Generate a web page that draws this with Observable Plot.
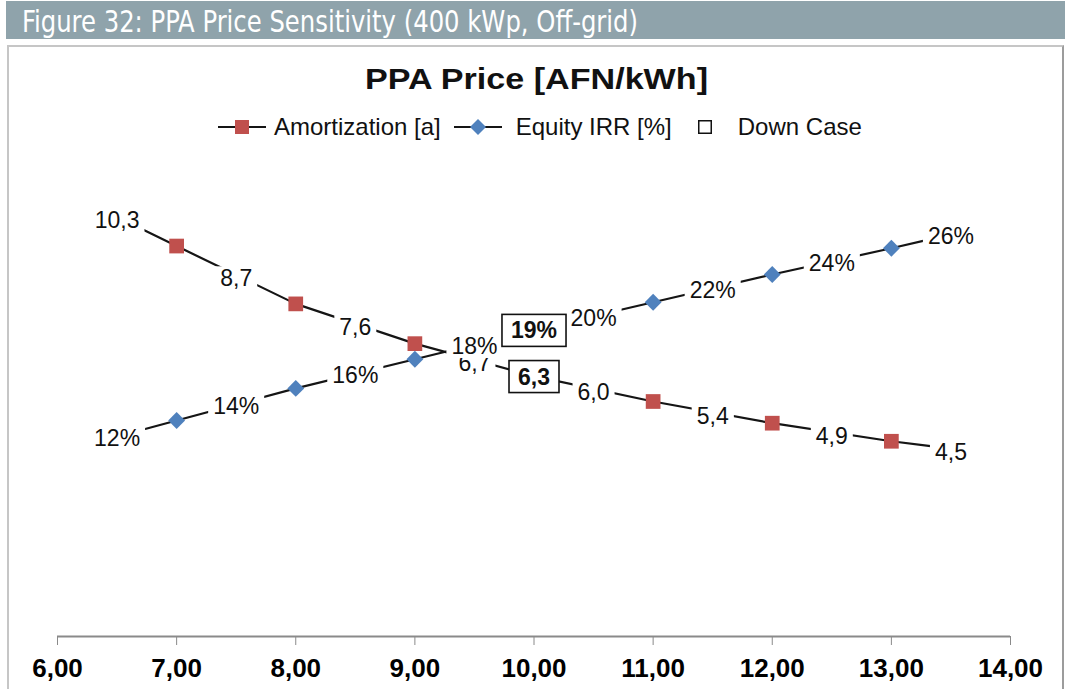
<!DOCTYPE html>
<html>
<head>
<meta charset="utf-8">
<script src="https://cdn.jsdelivr.net/npm/d3@7"></script>
<script src="https://cdn.jsdelivr.net/npm/@observablehq/plot@0.6"></script>
<style>
  body { margin:0; background:#fff; width:1065px; height:689px; overflow:hidden; position:relative;
         font-family:"Liberation Sans", Arial, sans-serif; }
  #hdr { position:absolute; left:6px; top:1px; width:1059px; height:38px; background:#8fa3ab; }
  #hdrText { position:absolute; left:16px; top:6px; color:#fff; font-family:"DejaVu Sans Condensed","DejaVu Sans",sans-serif;
             font-stretch:condensed; font-size:30px; line-height:1; white-space:nowrap; transform-origin:0 0; }
  #box { position:absolute; left:7px; top:45px; width:1053px; height:700px; border:2px solid #c6c6c6; border-right-color:#9c9c9c; }
  #title { position:absolute; left:365px; top:64px; font-weight:bold; font-size:30px; line-height:1; white-space:nowrap;
           transform-origin:0 0; color:#111; }
  #legend { position:absolute; left:218px; top:115px; height:24px; display:flex; align-items:center; font-size:24px;
            line-height:1; white-space:nowrap; color:#111; }
  #legend svg { display:block; }
  #chart { position:absolute; left:0; top:150px; }
  #chart svg [aria-label^="x-axis"] text { font-family:"Liberation Sans", Arial, sans-serif; font-weight:bold; font-size:26px; fill:#000; }
</style>
</head>
<body>
<div id="hdr"><div id="hdrText">Figure 32: PPA Price Sensitivity (400 kWp, Off-grid)</div></div>
<div id="box"></div>
<div id="title">PPA Price [AFN/kWh]</div>
<div id="legend"></div>
<div id="chart"></div>
<script>
// ---------- data ----------
const prices = [7, 8, 9, 10, 11, 12, 13, 14];                     // PPA price [AFN/kWh]
const amortization = [10.3, 8.7, 7.6, 6.7, 6.0, 5.4, 4.9, 4.5];     // years
const equityIRR = [12.0, 14.2, 16.2, 18.2, 20.1, 22.0, 23.8, 25.7]; // %
const downCasePrice = 10;
const downCaseAmortization = 6.3;
const downCaseIRR = 19;
const xTicks = [6, 7, 8, 9, 10, 11, 12, 13, 14];
const amortAxisDomain = [-0.5, 12.5];   // primary (hidden) axis
const irrAxisDomain = [-2.79, 29.4];    // secondary (hidden) axis

// ---------- colours & formats ----------
const red = "#c0504d", blue = "#4f81bd", lineCol = "#151515";
const commaFmt1 = v => d3.format(".1f")(v).replace(".", ",");
const pctFmt = v => d3.format(".0f")(v) + "%";
const irrToY = d3.scaleLinear(irrAxisDomain, amortAxisDomain);

// header / title fitting
function fitWidth(el, w) {
  const r = el.getBoundingClientRect();
  el.style.transform = `scaleX(${w / r.width})`;
}
fitWidth(document.getElementById("hdrText"), 616);
fitWidth(document.getElementById("title"), 343);

// legend
const legendItems = [
  {type: "line", symbol: "square", color: red, label: "Amortization [a]", gapBefore: 0, gapText: 8},
  {type: "line", symbol: "diamond", color: blue, label: "Equity IRR [%]", gapBefore: 13, gapText: 14},
  {type: "box", label: "Down Case", gapBefore: 26, gapText: 26}
];
const legend = d3.select("#legend");
legendItems.forEach(it => {
  if (it.type === "line") {
    const s = legend.append("svg").attr("width", 48).attr("height", 24).style("margin-left", it.gapBefore + "px");
    s.append("line").attr("x1", 0).attr("x2", 48).attr("y1", 12).attr("y2", 12).attr("stroke", lineCol).attr("stroke-width", 2);
    if (it.symbol === "square") s.append("rect").attr("x", 17).attr("y", 5).attr("width", 14).attr("height", 14).attr("fill", it.color);
    else s.append("path").attr("d", "M24,4L32,12L24,20L16,12Z").attr("fill", it.color);
  } else {
    const s = legend.append("svg").attr("width", 14).attr("height", 24).style("margin-left", it.gapBefore + "px");
    s.append("rect").attr("x", 0.75).attr("y", 5.75).attr("width", 12.5).attr("height", 12.5).attr("fill", "#fff").attr("stroke", "#111").attr("stroke-width", 1.5);
  }
  legend.append("span").text(it.label).style("margin-left", it.gapText + "px");
});

// ---------- series geometry from the arrays ----------
const stubL = 0.28, stubR = 0.33;
function seriesRows(vals, toY, fmt) {
  const n = vals.length;
  const line = [{x: prices[0] - stubL, y: toY(vals[0] + stubL * (vals[0] - vals[1]))}];
  for (let i = 0; i < n - 1; i++) line.push({x: prices[i], y: toY(vals[i])});
  line.push({x: prices[n - 2] + stubR, y: toY(vals[n - 2] + stubR * (vals[n - 1] - vals[n - 2]))});
  const pts = prices.slice(0, n - 1).map((p, i) => ({x: p, y: toY(vals[i])}));
  const labels = vals.map((v, i) => {
    const prev = i > 0 ? vals[i - 1] : 2 * vals[0] - vals[1];
    return {x: prices[i] - 0.5, y: toY((prev + v) / 2), text: fmt(v)};
  });
  return {line, pts, labels};
}
const A = seriesRows(amortization, v => v, commaFmt1);
const E = seriesRows(equityIRR, irrToY, pctFmt);
const iDown = prices.indexOf(downCasePrice);
const downLabels = [
  {x: downCasePrice, y: amortization[iDown], text: commaFmt1(downCaseAmortization)},
  {x: downCasePrice, y: irrToY(equityIRR[iDown]), text: pctFmt(downCaseIRR)}
];

const labelStyle = {x: "x", y: "y", text: "text", fill: "#111", fontSize: 23,
                    fontFamily: "Liberation Sans, Arial, sans-serif"};

const chart = Plot.plot({
  width: 1065, height: 539,
  marginLeft: 57, marginRight: 55, marginTop: 16, marginBottom: 53,
  style: {background: "transparent", color: "#8a8a8a", fontFamily: "Liberation Sans, Arial, sans-serif"},
  x: {domain: [6, 14], ticks: xTicks, tickFormat: d => d.toFixed(2).replace(".", ","), tickSize: 9, tickPadding: 13, label: null},
  y: {domain: amortAxisDomain, axis: null},
  marks: [
    Plot.ruleY([amortAxisDomain[0]], {stroke: "#8a8a8a", strokeWidth: 2}),
    Plot.line(A.line, {x: "x", y: "y", stroke: lineCol, strokeWidth: 2.2}),
    Plot.line(E.line, {x: "x", y: "y", stroke: lineCol, strokeWidth: 2.2}),
    Plot.dot(A.pts, {x: "x", y: "y", symbol: "square", r: 8.3, fill: red}),
    Plot.dot(E.pts, {x: "x", y: "y", symbol: "diamond2", r: 7.6, fill: blue}),
    Plot.text(A.labels, {...labelStyle, dy: 4}),
    Plot.text(E.labels, {...labelStyle, dy: 2}),
    Plot.text(downLabels, {x: "x", y: "y", text: "text", fill: "#111", fontWeight: "bold", fontSize: 23,
                           fontFamily: "Liberation Sans, Arial, sans-serif", dy: 1})
  ]
});
document.getElementById("chart").appendChild(chart);

// label backgrounds (white) and Down Case boxes (outlined)
const textGroups = Array.from(chart.querySelectorAll('g[aria-label="text"]'));
textGroups.forEach((g, gi) => {
  const isDown = gi === textGroups.length - 1;
  g.querySelectorAll("text").forEach(t => {
    const b = t.getBBox();
    const padX = isDown ? 9 : 5, padY = isDown ? 3 : -1;
    const r = document.createElementNS("http://www.w3.org/2000/svg", "rect");
    r.setAttribute("x", b.x - padX);
    r.setAttribute("y", b.y - padY);
    r.setAttribute("width", b.width + 2 * padX);
    r.setAttribute("height", b.height + 2 * padY);
    r.setAttribute("fill", "#fff");
    if (t.getAttribute("transform")) r.setAttribute("transform", t.getAttribute("transform"));
    if (isDown) { r.setAttribute("stroke", "#111"); r.setAttribute("stroke-width", 1.6); }
    else r.setAttribute("stroke", "none");
    g.insertBefore(r, t);
  });
});
</script>
</body>
</html>
